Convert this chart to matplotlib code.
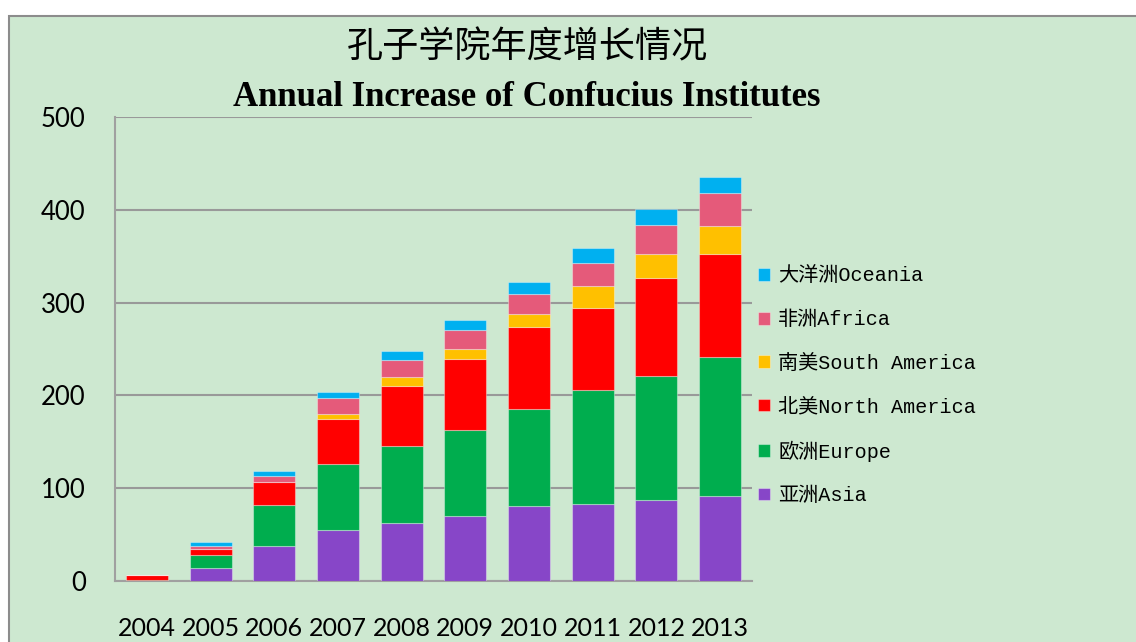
import numpy as np
import matplotlib
matplotlib.use('Agg')
import matplotlib.pyplot as plt
from matplotlib.patches import Rectangle

# data (cumulative institutes per region)
years = ['2004', '2005', '2006', '2007', '2008', '2009', '2010', '2011', '2012', '2013']
asia = [0, 14, 38, 55, 62, 70, 81, 83, 87, 92]
europe = [1, 14, 44, 71, 84, 93, 104, 123, 134, 149]
north_america = [5, 7, 25, 49, 64, 76, 89, 88, 105, 111]
south_america = [0, 0, 0, 5, 10, 11, 14, 24, 26, 31]
africa = [0, 3, 6, 17, 18, 21, 21, 25, 32, 35]
oceania = [0, 4, 5, 7, 10, 10, 13, 16, 17, 17]

series = [
    ('亚洲Asia', asia, '#8746C8'),
    ('欧洲Europe', europe, '#00AD4E'),
    ('北美North America', north_america, '#FF0000'),
    ('南美South America', south_america, '#FFC000'),
    ('非洲Africa', africa, '#E55A7A'),
    ('大洋洲Oceania', oceania, '#00B0F0'),
]

bg = '#CDE8D0'
W, H = 1136, 642
fig = plt.figure(figsize=(W / 100, H / 100), dpi=100, facecolor='white')

# green chart area with grey border (extends past right/bottom edges)
fig.patches.append(Rectangle((8.5 / W, -0.05), 1.1, (H - 15.5) / H + 0.05,
                             transform=fig.transFigure, facecolor=bg,
                             edgecolor='#8C8C8C', linewidth=1.5, zorder=-5))

ax = fig.add_axes([115 / W, (H - 581) / H, (752 - 115) / W, (581 - 117) / H])
ax.set_facecolor('none')

x = np.arange(len(years))
bottom = np.zeros(len(years))
handles = []
for label, vals, color in series:
    b = ax.bar(x, vals, width=0.66, bottom=bottom, color=color, label=label,
               edgecolor=(1, 1, 1, 0.35), linewidth=0.8, zorder=3)
    handles.append(b)
    bottom += np.array(vals)

ax.set_xlim(-0.5, len(years) - 0.5)
ax.set_ylim(0, 500)
ax.set_yticks(range(0, 501, 100))
ax.set_xticks(x)
ax.set_xticklabels(years)
ax.grid(axis='y', color='#999999', linewidth=1.5, zorder=1)
ax.tick_params(length=0)
ax.tick_params(axis='y', pad=21, labelsize=18.5)
ax.tick_params(axis='x', pad=26, labelsize=18)
for lab in ax.get_xticklabels() + ax.get_yticklabels():
    lab.set_family('Lato')
for s in ['top', 'right']:
    ax.spines[s].set_visible(False)
for s in ['left', 'bottom']:
    ax.spines[s].set_color('#A0A0A0')
    ax.spines[s].set_linewidth(1.5)

fig.text(527 / W, 1 - 47 / H, '孔子学院年度增长情况', ha='center', va='center',
         fontsize=26, family='Noto Sans CJK SC')
fig.text(527 / W, 1 - 97 / H, 'Annual Increase of Confucius Institutes', ha='center',
         va='center', fontsize=25, fontweight='bold', family='Liberation Serif')

leg = ax.legend(handles[::-1], [s[0] for s in series][::-1], loc='center left',
                bbox_to_anchor=(758 / W, 1 - 386 / H), bbox_transform=fig.transFigure,
                frameon=False, handlelength=0.6, handleheight=0.6, handletextpad=0.4,
                labelspacing=1.21, borderaxespad=0, borderpad=0,
                prop={'family': ['Liberation Mono', 'Noto Sans CJK SC'], 'size': 14.5})

fig.savefig('out.png', dpi=100, facecolor='white')
